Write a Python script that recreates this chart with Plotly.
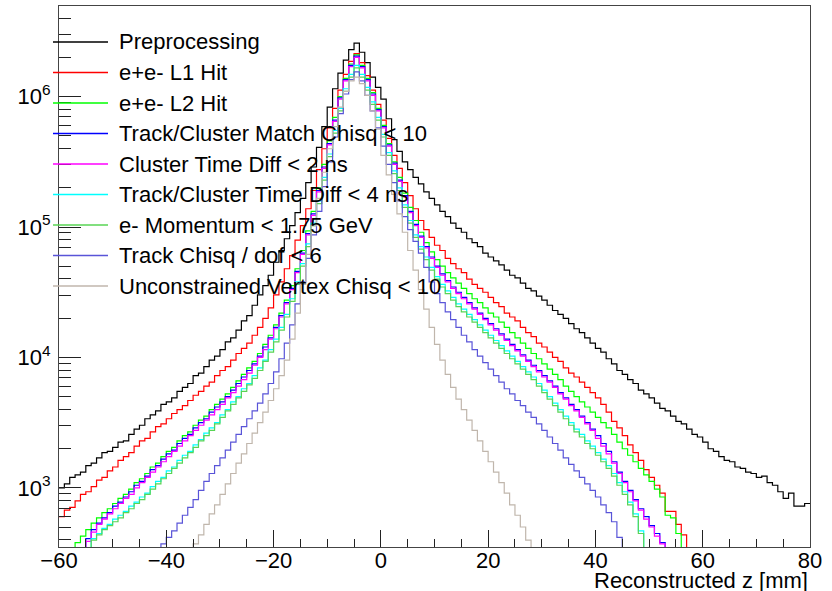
import numpy as np
import plotly.graph_objects as go

# 1 mm bins of reconstructed vertex z
Z_MIN, Z_MAX = -60, 80
edges = np.arange(Z_MIN, Z_MAX + 1)

# log10(entries per bin), bins from z = -60 mm to z = 80 mm (10 bins per row)
log_preprocessing = [
    3.00, 3.03, 3.08, 3.10, 3.12, 3.17, 3.19, 3.23, 3.27, 3.28,
    3.31, 3.35, 3.36, 3.41, 3.45, 3.48, 3.53, 3.56, 3.59, 3.64,
    3.66, 3.69, 3.74, 3.77, 3.80, 3.86, 3.88, 3.93, 3.98, 4.01,
    4.06, 4.12, 4.15, 4.21, 4.28, 4.32, 4.40, 4.48, 4.55, 4.63,
    4.73, 4.82, 4.91, 5.01, 5.11, 5.22, 5.34, 5.46, 5.61, 5.77,
    5.92, 6.06, 6.18, 6.28, 6.36, 6.41, 6.34, 6.26, 6.15, 6.07,
    5.98, 5.83, 5.67, 5.58, 5.50, 5.44, 5.38, 5.33, 5.27, 5.22,
    5.17, 5.12, 5.08, 5.03, 4.99, 4.96, 4.91, 4.88, 4.85, 4.80,
    4.77, 4.74, 4.71, 4.67, 4.63, 4.61, 4.57, 4.53, 4.51, 4.47,
    4.44, 4.40, 4.36, 4.33, 4.30, 4.26, 4.22, 4.19, 4.15, 4.11,
    4.07, 4.04, 3.99, 3.95, 3.90, 3.87, 3.83, 3.80, 3.75, 3.72,
    3.69, 3.65, 3.61, 3.59, 3.55, 3.51, 3.49, 3.45, 3.41, 3.39,
    3.35, 3.30, 3.28, 3.24, 3.21, 3.20, 3.16, 3.15, 3.12, 3.11,
    3.08, 3.09, 3.04, 3.02, 2.97, 2.92, 2.96, 2.86, 2.86, 2.88,
]
log_l1_hit = [
    2.78, 2.83, 2.85, 2.90, 2.95, 2.97, 3.01, 3.06, 3.08, 3.13,
    3.16, 3.21, 3.24, 3.27, 3.32, 3.36, 3.38, 3.43, 3.47, 3.49,
    3.53, 3.57, 3.60, 3.63, 3.67, 3.71, 3.74, 3.78, 3.81, 3.86,
    3.90, 3.93, 3.98, 4.03, 4.07, 4.11, 4.17, 4.23, 4.30, 4.38,
    4.48, 4.58, 4.68, 4.78, 4.90, 5.01, 5.14, 5.28, 5.44, 5.60,
    5.76, 5.91, 6.05, 6.17, 6.27, 6.33, 6.26, 6.16, 6.05, 5.94,
    5.82, 5.68, 5.55, 5.45, 5.34, 5.24, 5.14, 5.05, 4.98, 4.92,
    4.86, 4.82, 4.76, 4.72, 4.68, 4.65, 4.60, 4.56, 4.53, 4.50,
    4.46, 4.42, 4.39, 4.34, 4.31, 4.28, 4.23, 4.19, 4.16, 4.11,
    4.08, 4.04, 4.00, 3.97, 3.92, 3.88, 3.85, 3.81, 3.77, 3.73,
    3.69, 3.64, 3.58, 3.51, 3.46, 3.40, 3.33, 3.27, 3.21, 3.14,
    3.08, 3.02, 2.96, 2.82, 2.82, 2.72, 2.64, 2.45, 2.35, 2.25,
    2.20, 2.15, 2.10, 2.05, 2.00, 1.95, 1.90, 1.85, 1.80, 1.75,
    1.70, 1.65, 1.60, 1.55, 1.50, 1.45, 1.40, 1.35, 1.30, 1.25,
]
log_l2_hit = [
    2.40, 2.46, 2.52, 2.58, 2.63, 2.68, 2.73, 2.77, 2.81, 2.84,
    2.88, 2.92, 2.95, 2.99, 3.04, 3.07, 3.11, 3.16, 3.19, 3.24,
    3.28, 3.31, 3.36, 3.40, 3.43, 3.48, 3.52, 3.55, 3.60, 3.64,
    3.68, 3.72, 3.77, 3.82, 3.87, 3.92, 3.97, 4.03, 4.10, 4.17,
    4.25, 4.34, 4.44, 4.55, 4.68, 4.82, 4.97, 5.12, 5.30, 5.48,
    5.66, 5.84, 6.00, 6.14, 6.25, 6.32, 6.24, 6.14, 6.03, 5.91,
    5.78, 5.64, 5.50, 5.38, 5.26, 5.15, 5.05, 4.96, 4.88, 4.81,
    4.75, 4.70, 4.65, 4.61, 4.57, 4.53, 4.49, 4.45, 4.42, 4.38,
    4.34, 4.31, 4.27, 4.23, 4.19, 4.15, 4.11, 4.07, 4.03, 3.99,
    3.95, 3.91, 3.87, 3.83, 3.78, 3.74, 3.70, 3.66, 3.62, 3.58,
    3.54, 3.50, 3.46, 3.41, 3.35, 3.30, 3.25, 3.20, 3.15, 3.10,
    3.05, 2.99, 2.93, 2.79, 2.77, 2.65, 2.45, 2.35, 2.25, 2.15,
    2.10, 2.05, 2.00, 1.95, 1.90, 1.85, 1.80, 1.75, 1.70, 1.65,
    1.60, 1.55, 1.50, 1.45, 1.40, 1.35, 1.30, 1.25, 1.20, 1.15,
]
log_match_chisq = [
    2.30, 2.36, 2.42, 2.47, 2.53, 2.61, 2.68, 2.73, 2.77, 2.81,
    2.86, 2.89, 2.93, 2.97, 3.02, 3.05, 3.09, 3.14, 3.17, 3.22,
    3.26, 3.29, 3.34, 3.38, 3.41, 3.46, 3.50, 3.53, 3.58, 3.62,
    3.66, 3.70, 3.75, 3.80, 3.85, 3.90, 3.95, 4.01, 4.08, 4.15,
    4.23, 4.32, 4.42, 4.53, 4.66, 4.80, 4.95, 5.10, 5.28, 5.46,
    5.64, 5.82, 5.99, 6.13, 6.24, 6.31, 6.23, 6.13, 6.02, 5.90,
    5.77, 5.63, 5.49, 5.36, 5.24, 5.12, 5.02, 4.93, 4.85, 4.77,
    4.70, 4.64, 4.59, 4.54, 4.50, 4.46, 4.42, 4.38, 4.34, 4.30,
    4.26, 4.22, 4.18, 4.14, 4.10, 4.06, 4.02, 3.98, 3.94, 3.90,
    3.86, 3.82, 3.78, 3.73, 3.69, 3.64, 3.60, 3.55, 3.50, 3.45,
    3.40, 3.34, 3.28, 3.20, 3.12, 3.05, 2.98, 2.91, 2.84, 2.78,
    2.71, 2.65, 2.58, 2.45, 2.35, 2.25, 2.15, 2.05, 1.95, 1.85,
    1.80, 1.75, 1.70, 1.65, 1.60, 1.55, 1.50, 1.45, 1.40, 1.35,
    1.30, 1.25, 1.20, 1.15, 1.10, 1.05, 1.00, 0.95, 0.90, 0.85,
]
log_cluster_dt = [
    2.28, 2.34, 2.40, 2.45, 2.51, 2.59, 2.66, 2.72, 2.76, 2.80,
    2.84, 2.88, 2.92, 2.95, 3.00, 3.04, 3.08, 3.12, 3.16, 3.20,
    3.24, 3.28, 3.32, 3.36, 3.40, 3.44, 3.48, 3.52, 3.56, 3.60,
    3.64, 3.69, 3.73, 3.78, 3.83, 3.88, 3.94, 4.00, 4.06, 4.14,
    4.22, 4.31, 4.41, 4.52, 4.65, 4.79, 4.94, 5.09, 5.27, 5.45,
    5.63, 5.81, 5.98, 6.12, 6.23, 6.30, 6.22, 6.12, 6.01, 5.89,
    5.76, 5.62, 5.48, 5.35, 5.23, 5.11, 5.01, 4.92, 4.84, 4.76,
    4.69, 4.63, 4.58, 4.53, 4.49, 4.45, 4.41, 4.37, 4.33, 4.29,
    4.25, 4.21, 4.17, 4.13, 4.09, 4.05, 4.01, 3.97, 3.93, 3.89,
    3.85, 3.81, 3.77, 3.72, 3.68, 3.63, 3.59, 3.54, 3.49, 3.44,
    3.38, 3.32, 3.26, 3.19, 3.11, 3.04, 2.97, 2.90, 2.83, 2.76,
    2.70, 2.63, 2.57, 2.44, 2.34, 2.24, 2.14, 2.04, 1.94, 1.84,
    1.79, 1.74, 1.69, 1.64, 1.59, 1.54, 1.49, 1.44, 1.39, 1.34,
    1.29, 1.24, 1.19, 1.14, 1.09, 1.04, 0.99, 0.94, 0.89, 0.84,
]
log_track_cluster_dt = [
    2.31, 2.37, 2.43, 2.48, 2.52, 2.54, 2.61, 2.65, 2.69, 2.72,
    2.76, 2.79, 2.82, 2.86, 2.89, 2.93, 2.96, 3.01, 3.05, 3.08,
    3.13, 3.16, 3.21, 3.25, 3.28, 3.33, 3.37, 3.42, 3.46, 3.50,
    3.56, 3.60, 3.66, 3.70, 3.76, 3.80, 3.86, 3.92, 3.98, 4.06,
    4.14, 4.23, 4.33, 4.45, 4.58, 4.72, 4.87, 5.03, 5.20, 5.38,
    5.56, 5.74, 5.91, 6.06, 6.17, 6.24, 6.17, 6.07, 5.96, 5.84,
    5.71, 5.57, 5.43, 5.30, 5.17, 5.05, 4.94, 4.85, 4.77, 4.69,
    4.62, 4.56, 4.51, 4.46, 4.41, 4.37, 4.33, 4.29, 4.25, 4.21,
    4.17, 4.13, 4.09, 4.05, 4.01, 3.97, 3.93, 3.89, 3.85, 3.80,
    3.75, 3.70, 3.65, 3.60, 3.55, 3.50, 3.45, 3.41, 3.36, 3.32,
    3.27, 3.22, 3.17, 3.11, 3.04, 2.97, 2.89, 2.80, 2.67, 2.47,
    2.37, 2.27, 2.17, 2.07, 1.97, 1.87, 1.77, 1.67, 1.57, 1.47,
    1.42, 1.37, 1.32, 1.27, 1.22, 1.17, 1.12, 1.07, 1.02, 0.97,
    0.92, 0.87, 0.82, 0.77, 0.72, 0.67, 0.62, 0.57, 0.52, 0.47,
]
log_momentum = [
    2.30, 2.36, 2.42, 2.47, 2.50, 2.53, 2.60, 2.64, 2.68, 2.71,
    2.74, 2.77, 2.81, 2.84, 2.88, 2.91, 2.95, 2.99, 3.03, 3.07,
    3.11, 3.15, 3.19, 3.23, 3.27, 3.31, 3.36, 3.40, 3.44, 3.49,
    3.54, 3.59, 3.64, 3.69, 3.74, 3.79, 3.84, 3.90, 3.97, 4.04,
    4.12, 4.21, 4.31, 4.43, 4.56, 4.70, 4.85, 5.01, 5.18, 5.36,
    5.54, 5.72, 5.89, 6.04, 6.15, 6.22, 6.15, 6.05, 5.94, 5.82,
    5.69, 5.55, 5.41, 5.28, 5.15, 5.03, 4.92, 4.83, 4.75, 4.67,
    4.60, 4.54, 4.49, 4.44, 4.39, 4.35, 4.31, 4.27, 4.23, 4.19,
    4.15, 4.11, 4.07, 4.03, 3.99, 3.95, 3.91, 3.87, 3.83, 3.78,
    3.73, 3.68, 3.63, 3.58, 3.53, 3.48, 3.43, 3.39, 3.34, 3.30,
    3.25, 3.20, 3.15, 3.09, 3.02, 2.95, 2.87, 2.78, 2.65, 2.45,
    2.35, 2.25, 2.15, 2.05, 1.95, 1.85, 1.75, 1.65, 1.55, 1.45,
    1.40, 1.35, 1.30, 1.25, 1.20, 1.15, 1.10, 1.05, 1.00, 0.95,
    0.90, 0.85, 0.80, 0.75, 0.70, 0.65, 0.60, 0.55, 0.50, 0.45,
]
log_track_chisq = [
    1.43, 1.49, 1.55, 1.61, 1.67, 1.73, 1.79, 1.85, 1.91, 1.97,
    2.03, 2.09, 2.15, 2.21, 2.27, 2.33, 2.39, 2.45, 2.51, 2.57,
    2.62, 2.67, 2.73, 2.79, 2.85, 2.91, 2.98, 3.05, 3.11, 3.17,
    3.23, 3.29, 3.35, 3.41, 3.47, 3.53, 3.59, 3.65, 3.72, 3.80,
    3.89, 3.99, 4.11, 4.25, 4.41, 4.58, 4.76, 4.94, 5.12, 5.31,
    5.50, 5.69, 5.87, 6.02, 6.13, 6.19, 6.12, 6.01, 5.89, 5.76,
    5.62, 5.48, 5.34, 5.20, 5.08, 4.98, 4.89, 4.80, 4.69, 4.58,
    4.49, 4.42, 4.35, 4.29, 4.23, 4.17, 4.12, 4.06, 4.01, 3.96,
    3.91, 3.86, 3.81, 3.76, 3.72, 3.67, 3.63, 3.58, 3.54, 3.49,
    3.44, 3.39, 3.34, 3.29, 3.23, 3.18, 3.13, 3.08, 3.03, 2.98,
    2.93, 2.87, 2.81, 2.74, 2.62, 2.45, 2.38, 2.31, 2.24, 2.17,
    2.10, 2.03, 1.96, 1.89, 1.82, 1.75, 1.68, 1.61, 1.54, 1.47,
    1.40, 1.33, 1.26, 1.19, 1.12, 1.05, 0.98, 0.91, 0.84, 0.77,
    0.70, 0.63, 0.56, 0.49, 0.42, 0.35, 0.28, 0.21, 0.14, 0.07,
]
log_vertex_chisq = [
    0.57, 0.65, 0.73, 0.81, 0.89, 0.97, 1.05, 1.13, 1.21, 1.29,
    1.37, 1.45, 1.53, 1.61, 1.69, 1.77, 1.85, 1.93, 2.01, 2.09,
    2.17, 2.25, 2.33, 2.41, 2.50, 2.57, 2.64, 2.72, 2.80, 2.87,
    2.95, 3.03, 3.11, 3.19, 3.26, 3.34, 3.42, 3.50, 3.58, 3.67,
    3.76, 3.86, 3.98, 4.14, 4.34, 4.56, 4.79, 5.01, 5.22, 5.42,
    5.60, 5.77, 5.92, 6.04, 6.12, 6.15, 6.10, 6.01, 5.89, 5.75,
    5.55, 5.40, 5.25, 5.10, 4.96, 4.82, 4.67, 4.52, 4.37, 4.23,
    4.10, 3.98, 3.87, 3.77, 3.68, 3.60, 3.52, 3.44, 3.36, 3.28,
    3.20, 3.12, 3.04, 2.96, 2.87, 2.79, 2.70, 2.60, 2.45, 2.37,
    2.29, 2.21, 2.13, 2.05, 1.97, 1.89, 1.81, 1.73, 1.65, 1.57,
    1.49, 1.41, 1.33, 1.25, 1.17, 1.09, 1.01, 0.93, 0.85, 0.77,
    0.69, 0.61, 0.53, 0.45, 0.37, 0.29, 0.21, 0.13, 0.05, 0.00,
    0.00, 0.00, 0.00, 0.00, 0.00, 0.00, 0.00, 0.00, 0.00, 0.00,
    0.00, 0.00, 0.00, 0.00, 0.00, 0.00, 0.00, 0.00, 0.00, 0.00,
]

cut_labels = [
    "Preprocessing",
    "e+e- L1 Hit",
    "e+e- L2 Hit",
    "Track/Cluster Match Chisq < 10",
    "Cluster Time Diff < 2 ns",
    "Track/Cluster Time Diff < 4 ns",
    "e- Momentum < 1.75 GeV",
    "Track Chisq / dof < 6",
    "Unconstrained Vertex Chisq < 10",
]
cut_logs = [
    log_preprocessing, log_l1_hit, log_l2_hit, log_match_chisq, log_cluster_dt,
    log_track_cluster_dt, log_momentum, log_track_chisq, log_vertex_chisq,
]
# ROOT palette indices 1, 2, 3, 4, 6, 7, 8, 9, 11
cut_colors = [
    "#000000", "#ff0000", "#00ff00", "#0000ff", "#ff00ff",
    "#00ffff", "#59d454", "#5954d8", "#c0b6ac",
]

x_tick_vals = [-60, -40, -20, 0, 20, 40, 60, 80]
x_tick_text = ["\u221260", "\u221240", "\u221220", "0", "20", "40", "60", "80"]
y_tick_vals = [1e3, 1e4, 1e5, 1e6]
y_tick_text = ["10<sup>3</sup>", "10<sup>4</sup>", "10<sup>5</sup>", "10<sup>6</sup>"]
y_min, y_max = 352.0, 4.95e6

W, H = 832, 591
ML, MR, MT, MB = 59, 22, 6, 44
PW, PH = W - ML - MR, H - MT - MB
FONT = "Liberation Sans, Arial, Helvetica, sans-serif"

fig = go.Figure()
for label, logs, color in zip(cut_labels, cut_logs, cut_colors):
    counts = np.power(10.0, np.asarray(logs, dtype=float))
    fig.add_trace(go.Scatter(
        x=edges, y=np.append(counts, counts[-1]),
        mode="lines", name=label,
        line=dict(color=color, width=1.2, shape="hv"),
        showlegend=False, hoverinfo="skip",
    ))

y_minor = [k * 10.0 ** n for n in range(2, 7) for k in range(2, 10)
           if y_min <= k * 10.0 ** n <= y_max]

fig.update_xaxes(
    range=[Z_MIN, Z_MAX], tickmode="array", tickvals=x_tick_vals, ticktext=x_tick_text,
    ticks="inside", ticklen=17, tickwidth=1, tickcolor="#222",
    minor=dict(tickmode="array", tickvals=list(range(-55, 80, 5)),
               ticks="inside", ticklen=8, tickwidth=1, tickcolor="#222"),
    showline=True, linecolor="#444", linewidth=1, mirror=True,
    showgrid=False, zeroline=False, ticklabelstandoff=-6,
    tickfont=dict(family=FONT, size=22, color="black"),
)
fig.update_yaxes(
    type="log", range=[np.log10(y_min), np.log10(y_max)],
    tickmode="array", tickvals=y_tick_vals, ticktext=y_tick_text,
    ticks="inside", ticklen=22, tickwidth=1, tickcolor="#222",
    minor=dict(tickmode="array", tickvals=y_minor,
               ticks="inside", ticklen=12, tickwidth=1, tickcolor="#222"),
    showline=True, linecolor="#444", linewidth=1, mirror=True,
    showgrid=False, zeroline=False, ticklabelstandoff=3,
    tickfont=dict(family=FONT, size=22, color="black"),
)

# Legend drawn in the upper-left corner of the frame (pixel layout -> paper units)
def px_to_paper_x(px):
    return (px - ML) / PW

def px_to_paper_y(py):
    return (H - MB - py) / PH

shapes, annotations = [], []
for i, (label, color) in enumerate(zip(cut_labels, cut_colors)):
    row_y = 42 + 30.5 * i
    shapes.append(dict(
        type="line", xref="paper", yref="paper", layer="above",
        x0=px_to_paper_x(53), x1=px_to_paper_x(108),
        y0=px_to_paper_y(row_y), y1=px_to_paper_y(row_y),
        line=dict(color=color, width=1.3),
    ))
    annotations.append(dict(
        xref="paper", yref="paper", x=px_to_paper_x(117), y=px_to_paper_y(row_y),
        xanchor="left", yanchor="middle", showarrow=False, text=label,
        font=dict(family=FONT, size=22, color="black"),
    ))

annotations.append(dict(
    xref="paper", yref="paper", x=1.0, y=px_to_paper_y(580),
    xanchor="right", yanchor="middle", showarrow=False,
    text="Reconstructed z [mm]", font=dict(family=FONT, size=22, color="black"),
))

fig.update_layout(
    width=W, height=H, margin=dict(l=ML, r=MR, t=MT, b=MB, pad=0),
    paper_bgcolor="white", plot_bgcolor="white",
    shapes=shapes, annotations=annotations, showlegend=False,
)

fig.write_html("out.html")
